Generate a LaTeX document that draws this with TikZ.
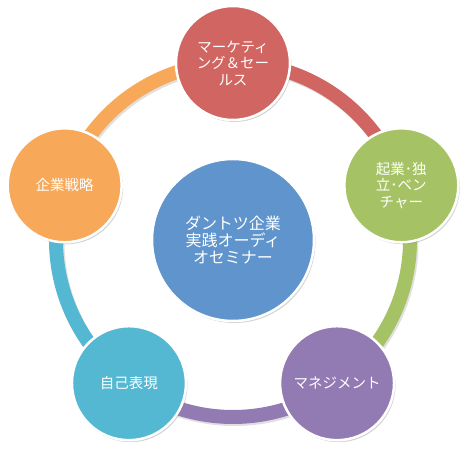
\documentclass[tikz,border=0pt]{standalone}
\usepackage{fontspec}
\setmainfont{Noto Sans CJK JP}
\usetikzlibrary{shadows,positioning,calc}

\definecolor{hubblue}{HTML}{5F94CD}
\definecolor{mktred}{HTML}{D06561}
\definecolor{vengreen}{HTML}{A5C364}
\definecolor{mgtpurple}{HTML}{927AB2}
\definecolor{selfteal}{HTML}{54B8D2}
\definecolor{stratorange}{HTML}{F7A858}

\tikzset{
	topic/.style={circle,draw=white,line width=2.5pt,fill=#1,minimum size=114pt,inner sep=0pt,
		text=white,align=center,font=\fontsize{14.5}{16.5}\selectfont,
		drop shadow={opacity=0.35,shadow xshift=1.5pt,shadow yshift=-2pt}},
	hub/.style={topic=#1,minimum size=162pt,font=\fontsize{16}{17}\selectfont},
	ring/.style={line width=14pt,draw=#1},
	ringshadow/.style={line width=14pt,draw=black,opacity=0.12}
}

\begin{document}
\begin{tikzpicture}[x=1pt,y=1pt]
	\useasboundingbox (0,0) rectangle (467,463);
	\coordinate (o) at (233,223);
	\coordinate (pmkt) at ($(o)+(90:177)$);
	\coordinate (pven) at ($(o)+(18:177)$);
	\coordinate (pmgt) at ($(o)+(-54:177)$);
	\coordinate (pself) at ($(o)+(-126:177)$);
	\coordinate (pstrat) at ($(o)+(162:177)$);
	
	% ring arcs
	\draw[ringshadow] ([shift={(1.5,-2)}]pmkt) arc[start angle=90,end angle=-270,radius=177pt];
	\draw[ring=mktred] (pmkt) arc[start angle=90,end angle=18,radius=177pt];
	\draw[ring=vengreen] (pven) arc[start angle=18,end angle=-54,radius=177pt];
	\draw[ring=mgtpurple] (pmgt) arc[start angle=-54,end angle=-126,radius=177pt];
	\draw[ring=selfteal] (pself) arc[start angle=-126,end angle=-198,radius=177pt];
	\draw[ring=stratorange] (pstrat) arc[start angle=162,end angle=90,radius=177pt];
	
	% circles
	\node[hub=hubblue] (hub) at (o) {ダントツ企業\\実践オーディ\\オセミナー};
	\node[topic=mktred] (mkt) at (pmkt) {マーケティ\\ング＆セー\\ルス};
	\node[topic=vengreen] (ven) at (pven) {起業･独\\立･ベン\\チャー};
	\node[topic=mgtpurple] (mgt) at (pmgt) {マネジメント};
	\node[topic=selfteal] (self) at (pself) {自己表現};
	\node[topic=stratorange] (strat) at (pstrat) {企業戦略};
\end{tikzpicture}
\end{document}
